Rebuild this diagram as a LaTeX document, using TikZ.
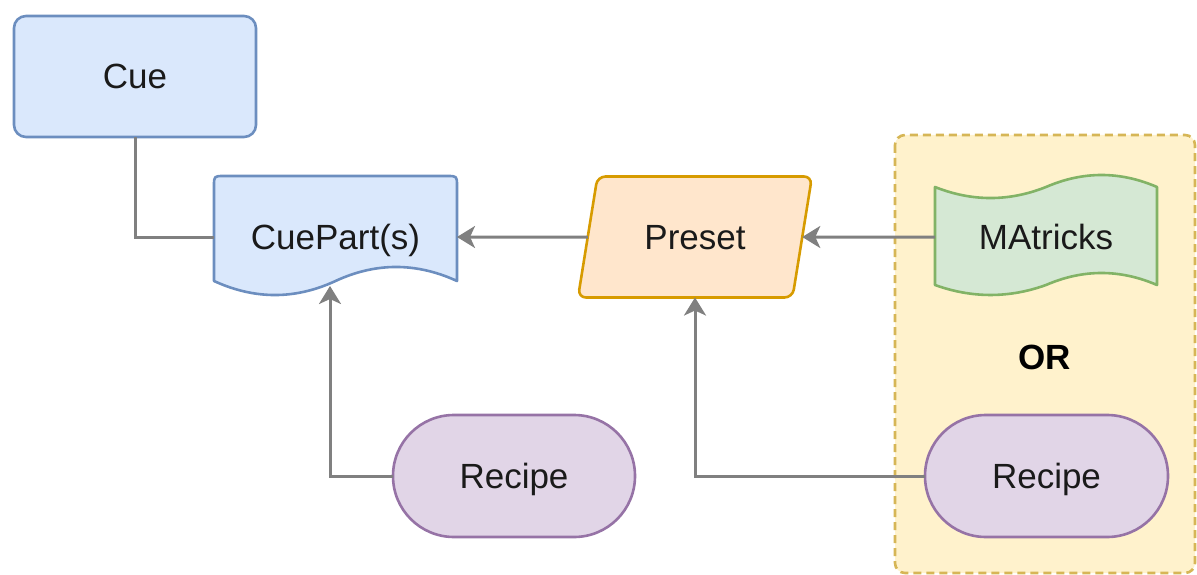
\documentclass[tikz,border=0pt]{standalone}
\usepackage{fontspec}
\setmainfont{Liberation Sans}
\usetikzlibrary{arrows.meta,shapes.geometric}
\definecolor{bluefill}{HTML}{DAE8FC}
\definecolor{bluedraw}{HTML}{6C8EBF}
\definecolor{orangefill}{HTML}{FFE6CC}
\definecolor{orangedraw}{HTML}{D79B00}
\definecolor{greenfill}{HTML}{D5E8D4}
\definecolor{greendraw}{HTML}{82B366}
\definecolor{yellowfill}{HTML}{FFF2CC}
\definecolor{yellowdraw}{HTML}{D6B656}
\definecolor{purplefill}{HTML}{E1D5E7}
\definecolor{purpledraw}{HTML}{9673A6}
\definecolor{linkgray}{HTML}{808080}
\definecolor{textdark}{HTML}{1A1A1A}
\tikzset{
  lbl/.style={font=\fontsize{35}{42}\selectfont, text=textdark, inner sep=0pt, outer sep=0pt,
    text height=25pt, text depth=0pt},
  shapeline/.style={line width=2.6pt, line join=round},
  cuebox/.style={lbl, shapeline, draw=bluedraw, fill=bluefill, rectangle, rounded corners=12pt,
    minimum width=242pt, minimum height=121pt},
  recipebox/.style={lbl, shapeline, draw=purpledraw, fill=purplefill, rectangle, rounded corners=60.9pt,
    minimum width=242pt, minimum height=122pt},
  presetbox/.style={lbl, shapeline, draw=orangedraw, fill=orangefill, trapezium,
    trapezium left angle=68, trapezium right angle=112, trapezium stretches=true,
    rounded corners=8pt, minimum width=234pt, minimum height=121pt},
  ghost/.style={lbl, draw=none, rectangle},
  link/.style={draw=linkgray, line width=3pt},
  linkarrow/.style={link, -{Stealth[length=18pt, width=22pt, inset=5pt]}},
}
\begin{document}
\begin{tikzpicture}[x=1pt, y=-1pt]
\useasboundingbox (0,0) rectangle (1197,575);
% group container
\draw[line width=2.6pt, draw=yellowdraw, fill=yellowfill, dash pattern=on 8pt off 5pt, rounded corners=10pt]
  (895,135) rectangle (1195,573);
% CuePart document shape
\draw[shapeline, draw=bluedraw, fill=bluefill]
  (214,281) -- (214,186) .. controls (214,176) and (214,176) .. (224,176)
  -- (447,176) .. controls (457,176) and (457,176) .. (457,186)
  -- (457,281) .. controls (416.3,262.3) and (375.8,262.3) .. (335.5,281)
  .. controls (295.2,299.7) and (254.7,299.7) .. (214,281) -- cycle;
% MAtricks tape shape
\draw[shapeline, draw=greendraw, fill=greenfill]
  (935,187) .. controls (972,201.7) and (1009,201.7) .. (1046,187)
  .. controls (1083,171) and (1120,171) .. (1157,187)
  -- (1157,285) .. controls (1120,269) and (1083,269) .. (1046,285)
  .. controls (1009,298.3) and (972,298.3) .. (935,285) -- cycle;
% nodes
\node[cuebox] (cue) at (135,76.5) {Cue};
\node[ghost, minimum width=243pt, minimum height=98pt] (cuepart) at (335.5,237) {CuePart(s)};
\node[presetbox] (preset) at (695,237) {Preset};
\node[ghost, minimum width=222pt, minimum height=98pt] (matricks) at (1046,237) {MAtricks};
\node[lbl, font=\fontsize{35}{42}\selectfont\bfseries, text=black] (or) at (1045,357) {OR};
\node[recipebox] (recipeA) at (514,476) {Recipe};
\node[recipebox, minimum width=243pt] (recipeB) at (1046.5,476) {Recipe};
% connectors
\draw[link] (cue.south) |- (cuepart.west);
\draw[linkarrow] (preset) -- (cuepart.east);
\draw[linkarrow] (matricks.west) -- (preset);
\draw[linkarrow] (recipeA.west) -| ([xshift=-5.5pt]cuepart.south);
\draw[linkarrow] (recipeB.west) -| (preset.center |- preset.south);
\end{tikzpicture}
\end{document}
